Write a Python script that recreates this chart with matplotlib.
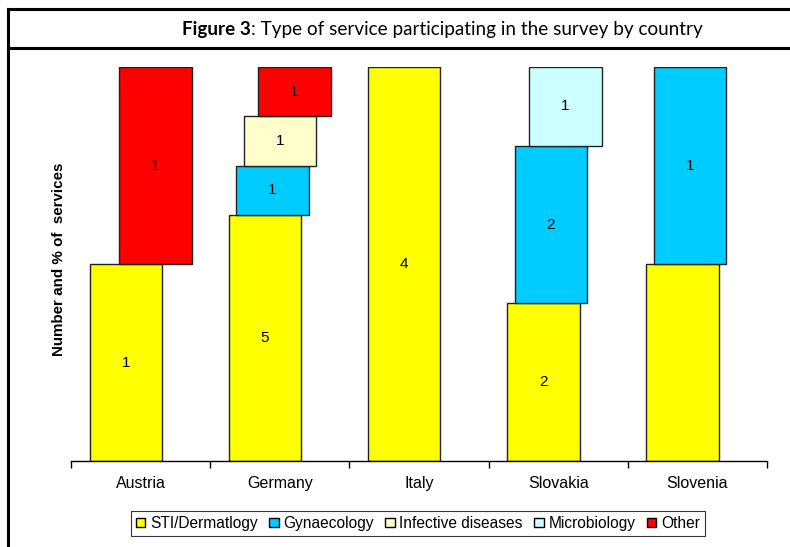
import numpy as np
import matplotlib
matplotlib.use('Agg')
import matplotlib.pyplot as plt
from matplotlib.lines import Line2D
from matplotlib.patches import Patch

countries = ['Austria', 'Germany', 'Italy', 'Slovakia', 'Slovenia']
series_names = ['STI/Dermatlogy', 'Gynaecology', 'Infective diseases',
                'Microbiology', 'Other']
sti = [1, 5, 4, 2, 1]
gynaecology = [0, 1, 0, 2, 1]
infective = [0, 1, 0, 0, 0]
microbiology = [0, 0, 0, 1, 0]
other = [1, 1, 0, 0, 0]
# Slovenia's STI segment carries no label
show_label = [[True, True, True, True, False],
              [True, True, True, True, True],
              [True, True, True, True, True],
              [True, True, True, True, True],
              [True, True, True, True, True]]
colors = ['#FFFF00', '#00CCFF', '#FFFFCC', '#CCFFFF', '#FF0000']


def main():
    plt.rcParams['font.family'] = 'Liberation Sans'
    fig = plt.figure(figsize=(7.9, 5.47), dpi=100)
    ax = fig.add_axes([0.0899, 0.1572, 0.881, 0.7203])

    counts = np.array([sti, gynaecology, infective, microbiology, other], dtype=float)
    totals = counts.sum(axis=0)
    fractions = counts / totals
    x = np.arange(len(countries))
    width = 0.52
    shift = 0.053
    bottom = np.zeros(len(countries))
    for i in range(len(series_names)):
        xs = x + (i - 2) * shift
        for j in range(len(countries)):
            if counts[i, j] == 0:
                continue
            ax.bar(xs[j], fractions[i, j], width, bottom=bottom[j],
                   color=colors[i], edgecolor='#222222', linewidth=1.0)
            if show_label[i][j]:
                ax.text(xs[j], bottom[j] + fractions[i, j] / 2,
                        '%d' % counts[i, j], ha='center', va='center',
                        fontsize=11)
        bottom += fractions[i]

    ax.set_xlim(-0.5, len(countries) - 0.5)
    ax.set_ylim(0, 1)
    ax.set_xticks(x)
    ax.set_xticklabels(countries, fontsize=11.5)
    ax.set_xticks(np.arange(len(countries) + 1) - 0.5, minor=True)
    ax.tick_params(axis='x', which='major', length=0, pad=11)
    ax.tick_params(axis='x', which='minor', length=5, width=1)
    ax.set_yticks([])
    for side in ['left', 'right', 'top']:
        ax.spines[side].set_visible(False)
    ax.spines['bottom'].set_linewidth(1.0)

    fig.text(59 / 790, 1 - 259 / 547, 'Number and % of  services',
             rotation=90, ha='center', va='center', fontsize=10.9,
             fontweight='bold')

    # frame around the figure and the title row
    lw = 2.2
    fig.add_artist(Line2D([7.5 / 790, 7.5 / 790], [0, 1 - 9 / 547],
                          color='black', linewidth=lw))
    fig.add_artist(Line2D([7.5 / 790, 1], [1 - 9 / 547, 1 - 9 / 547],
                          color='black', linewidth=lw))
    fig.add_artist(Line2D([7.5 / 790, 1], [1 - 48 / 547, 1 - 48 / 547],
                          color='black', linewidth=lw))

    # title: bold lead-in followed by regular text, centred as one line
    ty = 1 - 35 / 547
    t1 = fig.text(0, ty, 'Figure 3', fontsize=13.6, family='Lato',
                  fontweight='bold', va='baseline')
    t2 = fig.text(0, ty, ': Type of service participating in the survey by country',
                  fontsize=13.6, family='Lato', va='baseline')
    fig.canvas.draw()
    w1 = t1.get_window_extent().width
    w2 = t2.get_window_extent().width
    x0 = 442.5 - (w1 + w2) / 2
    t1.set_position((x0 / 790, ty))
    t2.set_position(((x0 + w1) / 790, ty))

    handles = [Patch(facecolor=c, edgecolor='black', linewidth=1.0) for c in colors]
    leg = fig.legend(handles, series_names, loc='center',
                     bbox_to_anchor=(418 / 790, 1 - 523.5 / 547), ncol=5,
                     fontsize=11.2, frameon=True, fancybox=False,
                     handlelength=0.6, handleheight=0.6, handletextpad=0.3,
                     columnspacing=0.75, borderpad=0.3)
    leg.get_frame().set_edgecolor('black')
    leg.get_frame().set_linewidth(0.8)

    fig.savefig('out.png', dpi=100)


if __name__ == '__main__':
    main()
